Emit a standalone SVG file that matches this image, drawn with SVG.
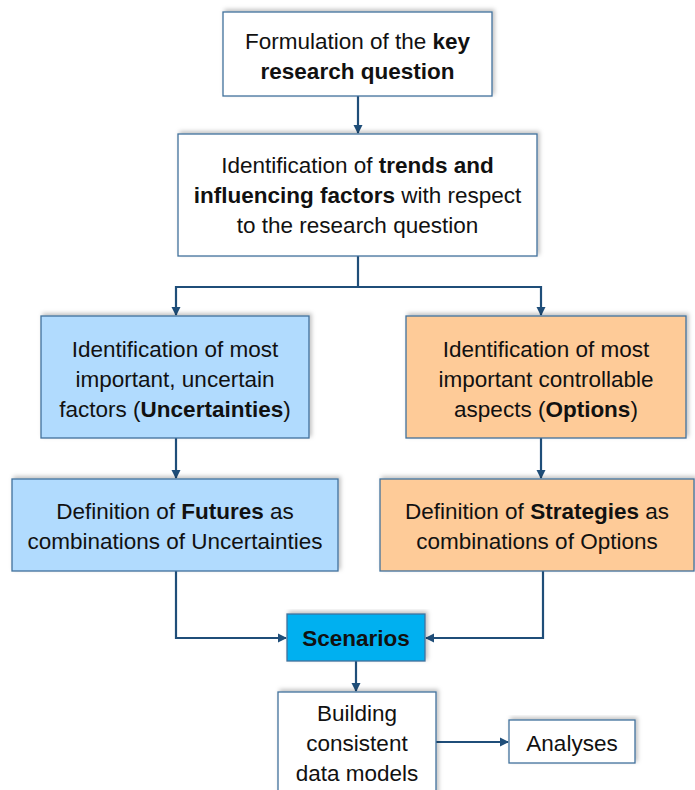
<svg xmlns="http://www.w3.org/2000/svg" width="695" height="790" viewBox="0 0 695 790">
<style>
text{font-family:"Liberation Sans","Open Sans",Arial,sans-serif;font-size:22.5px;fill:#111;text-anchor:middle}
.b{font-weight:bold}
.box{stroke:#41719C;stroke-width:1.3}
.w{fill:#fff}
.lb{fill:#B1DBFE}
.or{fill:#FECB98}
.sc{fill:#00B0F0}
.con{fill:none;stroke:#1F4E79;stroke-width:2.2;marker-end:url(#ah)}
</style>
<defs>
<marker id="ah" markerWidth="10" markerHeight="10" refX="8" refY="5" orient="auto" markerUnits="userSpaceOnUse">
<path d="M0,0.5 L9,5 L0,9.5 z" fill="#1F4E79"/>
</marker>
<filter id="sh" x="-10%" y="-10%" width="125%" height="130%">
<feDropShadow dx="2" dy="-2" stdDeviation="2" flood-color="#000" flood-opacity="0.25"/>
</filter>
</defs>
<rect width="695" height="790" fill="#fff"/>
<g id="connectors">
<path class="con" d="M358,96 V133"/>
<path class="con" d="M358,256 V287 H176 V315"/>
<path class="con" d="M358,287 H541 V315"/>
<path class="con" d="M176,438 V478"/>
<path class="con" d="M541,438 V478"/>
<path class="con" d="M176,571 V638 H286"/>
<path class="con" d="M543,571 V638 H426"/>
<path class="con" d="M356,661 V691"/>
<path class="con" d="M436,742 H508"/>
</g>
<g id="n1">
<rect class="box w" x="223" y="12" width="269" height="84" filter="url(#sh)"/>
<text x="357.5" y="49">Formulation of the <tspan class="b">key</tspan></text>
<text x="357.5" y="79" class="b">research question</text>
</g>
<g id="n2">
<rect class="box w" x="178" y="134" width="359" height="122" filter="url(#sh)"/>
<text x="357.5" y="173">Identification of <tspan class="b">trends and</tspan></text>
<text x="357.5" y="203"><tspan class="b">influencing factors</tspan> with respect</text>
<text x="357.5" y="233">to the research question</text>
</g>
<g id="n3">
<rect class="box lb" x="41" y="316" width="268" height="122" filter="url(#sh)"/>
<text x="175" y="357">Identification of most</text>
<text x="175" y="387">important, uncertain</text>
<text x="175" y="417">factors (<tspan class="b">Uncertainties</tspan>)</text>
</g>
<g id="n4">
<rect class="box or" x="406" y="316" width="280" height="122" filter="url(#sh)"/>
<text x="546" y="357">Identification of most</text>
<text x="546" y="387">important controllable</text>
<text x="546" y="417">aspects (<tspan class="b">Options</tspan>)</text>
</g>
<g id="n5">
<rect class="box lb" x="12" y="479" width="326" height="92" filter="url(#sh)"/>
<text x="175" y="519">Definition of <tspan class="b">Futures</tspan> as</text>
<text x="175" y="549">combinations of Uncertainties</text>
</g>
<g id="n6">
<rect class="box or" x="380" y="479" width="314" height="92" filter="url(#sh)"/>
<text x="537" y="519">Definition of <tspan class="b">Strategies</tspan> as</text>
<text x="537" y="549">combinations of Options</text>
</g>
<g id="n7">
<rect class="box sc" x="287" y="614" width="138" height="47" filter="url(#sh)"/>
<text x="356" y="646" class="b">Scenarios</text>
</g>
<g id="n8">
<rect class="box w" x="278" y="692" width="158" height="110" filter="url(#sh)"/>
<text x="357" y="721">Building</text>
<text x="357" y="751">consistent</text>
<text x="357" y="781">data models</text>
</g>
<g id="n9">
<rect class="box w" x="509" y="720" width="126" height="43" filter="url(#sh)"/>
<text x="572" y="751">Analyses</text>
</g>
</svg>
